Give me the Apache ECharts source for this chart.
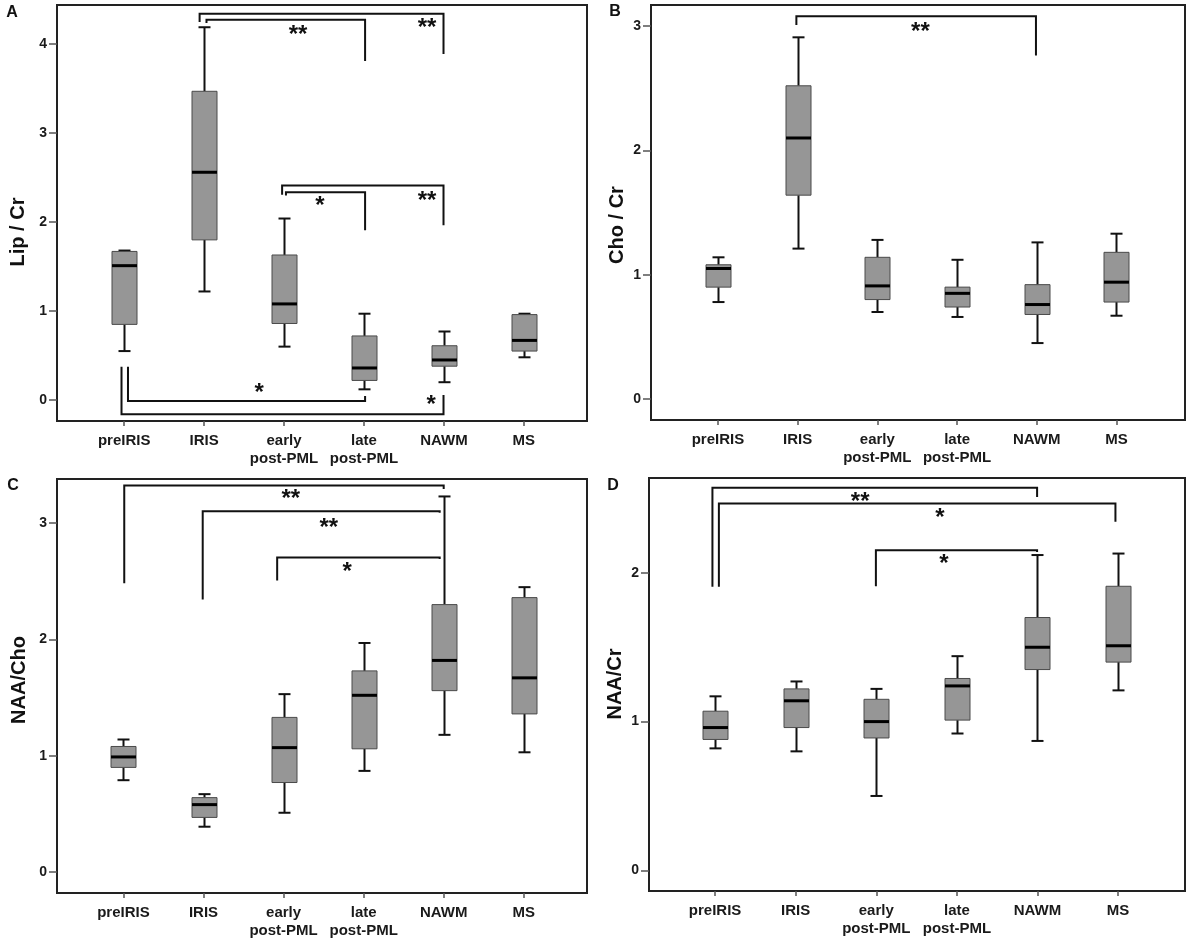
<!DOCTYPE html>
<html lang="en">

<head>
    <meta charset="UTF-8">
    <title>MRS ratios by group</title>
    <script src="https://cdn.jsdelivr.net/npm/echarts@6/dist/echarts.min.js"></script>
    <style>
        html, body { margin: 0; padding: 0; background: #fff; }
        #main { width: 1192px; height: 944px; }
    </style>
</head>

<body>
    <div id="main"></div>
    <script>
        var myChart = echarts.init(document.getElementById('main'));

        // groups on the x axis (same for all four panels)
        var categories = ['preIRIS', 'IRIS', 'early\npost-PML', 'late\npost-PML', 'NAWM', 'MS'];

        // box values per group: [min, Q1, median, Q3, max]
        var lipCr = [
            [0.55, 0.85, 1.51, 1.67, 1.68],
            [1.22, 1.80, 2.56, 3.47, 4.19],
            [0.60, 0.86, 1.08, 1.63, 2.04],
            [0.12, 0.22, 0.36, 0.72, 0.97],
            [0.20, 0.38, 0.45, 0.61, 0.77],
            [0.48, 0.55, 0.67, 0.96, 0.97]
        ];
        var choCr = [
            [0.78, 0.90, 1.05, 1.08, 1.14],
            [1.21, 1.64, 2.10, 2.52, 2.91],
            [0.70, 0.80, 0.91, 1.14, 1.28],
            [0.66, 0.74, 0.85, 0.90, 1.12],
            [0.45, 0.68, 0.76, 0.92, 1.26],
            [0.67, 0.78, 0.94, 1.18, 1.33]
        ];
        var naaCho = [
            [0.79, 0.90, 0.99, 1.08, 1.14],
            [0.39, 0.47, 0.58, 0.64, 0.67],
            [0.51, 0.77, 1.07, 1.33, 1.53],
            [0.87, 1.06, 1.52, 1.73, 1.97],
            [1.18, 1.56, 1.82, 2.30, 3.23],
            [1.03, 1.36, 1.67, 2.36, 2.45]
        ];
        var naaCr = [
            [0.82, 0.88, 0.96, 1.07, 1.17],
            [0.80, 0.96, 1.14, 1.22, 1.27],
            [0.50, 0.89, 1.00, 1.15, 1.22],
            [0.92, 1.01, 1.24, 1.29, 1.44],
            [0.87, 1.35, 1.50, 1.70, 2.12],
            [1.21, 1.40, 1.51, 1.91, 2.13]
        ];

        // significance brackets: [x1, y at x1 end, x2, y at x2 end, y of bar]
        var bracketsA = [
            [1.03, 4.237, 3.014, 3.81, 4.274],
            [0.944, 4.25, 3.995, 3.888, 4.342],
            [2.024, 2.299, 3.014, 1.907, 2.336],
            [1.976, 2.307, 3.995, 1.963, 2.411],
            [0.048, 0.374, 3.014, 0.045, -0.011],
            [-0.033, 0.374, 3.995, 0.056, -0.161]
        ];
        var bracketsB = [
            [0.984, 3.01, 3.99, 2.764, 3.08]
        ];
        var bracketsC = [
            [0.01, 2.484, 4.0, 3.295, 3.324],
            [0.99, 2.344, 3.95, 3.09, 3.103],
            [1.92, 2.507, 3.95, 2.693, 2.705]
        ];
        var bracketsD = [
            [-0.033, 1.906, 3.995, 2.511, 2.572],
            [0.047, 1.906, 4.967, 2.343, 2.466],
            [1.995, 1.91, 3.995, 2.141, 2.152]
        ];

        // stars: [x, y, number of asterisks]
        var starsA = [[2.175, 4.16, 2], [3.79, 4.23, 2], [2.45, 2.23, 1], [3.79, 2.29, 2], [1.69, 0.13, 1], [3.84, 0.0, 1]];
        var starsB = [[2.54, 2.99, 2]];
        var starsC = [[2.09, 3.244, 2], [2.565, 3.0, 2], [2.795, 2.62, 1]];
        var starsD = [[1.80, 2.506, 2], [2.79, 2.40, 1], [2.84, 2.09, 1]];

        // y tick labels
        var ticksA = [0, 1, 2, 3, 4];
        var ticksB = [0, 1, 2, 3];
        var ticksC = [0, 1, 2, 3];
        var ticksD = [0, 1, 2];

        var font = '"Liberation Sans", Arial, sans-serif';

        var panels = [
            { boxes: lipCr, brackets: bracketsA, stars: starsA, ticks: ticksA, grid: { left: 57, top: 5, width: 530, height: 416 }, x: [-0.84, 5.79], y: [-0.236, 4.44] },
            { boxes: choCr, brackets: bracketsB, stars: starsB, ticks: ticksB, grid: { left: 651, top: 5, width: 534, height: 415 }, x: [-0.84, 5.86], y: [-0.169, 3.17] },
            { boxes: naaCho, brackets: bracketsC, stars: starsC, ticks: ticksC, grid: { left: 57, top: 479, width: 530, height: 414 }, x: [-0.83, 5.79], y: [-0.18, 3.38] },
            { boxes: naaCr, brackets: bracketsD, stars: starsD, ticks: ticksD, grid: { left: 649, top: 478, width: 536, height: 413 }, x: [-0.82, 5.83], y: [-0.139, 2.638] }
        ];

        function renderBox(params, api) {
            var x = api.value(0);
            var lo = api.coord([x, api.value(1)]);
            var q1 = api.coord([x, api.value(2)]);
            var md = api.coord([x, api.value(3)]);
            var q3 = api.coord([x, api.value(4)]);
            var hi = api.coord([x, api.value(5)]);
            var cx = Math.round(lo[0]) + 0.5;
            var w = { stroke: '#111', lineWidth: 2 };
            return {
                type: 'group',
                children: [
                    { type: 'line', shape: { x1: cx, y1: hi[1], x2: cx, y2: q3[1] }, style: w },
                    { type: 'line', shape: { x1: cx, y1: q1[1], x2: cx, y2: lo[1] }, style: w },
                    { type: 'line', shape: { x1: cx - 6, y1: hi[1], x2: cx + 6, y2: hi[1] }, style: w },
                    { type: 'line', shape: { x1: cx - 6, y1: lo[1], x2: cx + 6, y2: lo[1] }, style: w },
                    { type: 'rect', shape: { x: cx - 12.5, y: q3[1], width: 25, height: q1[1] - q3[1] }, style: { fill: '#969696', stroke: '#4a4a4a', lineWidth: 1 } },
                    { type: 'line', shape: { x1: cx - 12.5, y1: md[1], x2: cx + 12.5, y2: md[1] }, style: { stroke: '#000', lineWidth: 3 } }
                ]
            };
        }

        function renderBracket(params, api) {
            var a = api.coord([api.value(0), api.value(1)]);
            var b = api.coord([api.value(0), api.value(4)]);
            var c = api.coord([api.value(2), api.value(4)]);
            var d = api.coord([api.value(2), api.value(3)]);
            return {
                type: 'polyline',
                shape: { points: [a, b, c, d] },
                style: { stroke: '#111', lineWidth: 2, fill: null }
            };
        }

        function renderStars(params, api) {
            var p = api.coord([api.value(0), api.value(1)]);
            var s = api.value(2) === 2 ? '**' : '*';
            return {
                type: 'text',
                x: p[0],
                y: p[1] + 5,
                style: { text: s, fill: '#111', fontSize: 24, fontWeight: 'bold', fontFamily: font, align: 'center', verticalAlign: 'middle' }
            };
        }

        var grids = [], xAxes = [], yAxes = [], series = [];
        panels.forEach(function (p, i) {
            grids.push({
                left: p.grid.left, top: p.grid.top, width: p.grid.width, height: p.grid.height,
                show: true, borderColor: '#222', borderWidth: 2, backgroundColor: '#fff'
            });
            xAxes.push({
                gridIndex: i, type: 'value', min: p.x[0], max: p.x[1], position: 'bottom',
                axisLine: { show: false, onZero: false }, splitLine: { show: false },
                axisTick: { show: true, length: 5, customValues: [0, 1, 2, 3, 4, 5], lineStyle: { color: '#555', width: 1.5 } },
                axisLabel: {
                    customValues: [0, 1, 2, 3, 4, 5], margin: 11,
                    formatter: function (v) { return categories[Math.round(v)]; },
                    color: '#1a1a1a', fontSize: 15, fontWeight: 'bold', fontFamily: font, lineHeight: 18
                }
            });
            yAxes.push({
                gridIndex: i, type: 'value', min: p.y[0], max: p.y[1], position: 'left',
                axisLine: { show: false, onZero: false }, splitLine: { show: false },
                axisTick: { show: true, length: 8, customValues: p.ticks, lineStyle: { color: '#555', width: 1.5 } },
                axisLabel: { customValues: p.ticks, margin: 10, color: '#1a1a1a', fontSize: 14, fontWeight: 'bold', fontFamily: font }
            });
            series.push({
                type: 'custom', xAxisIndex: i, yAxisIndex: i, renderItem: renderBracket, silent: true,
                data: p.brackets
            });
            series.push({
                type: 'custom', xAxisIndex: i, yAxisIndex: i, renderItem: renderBox,
                encode: { x: 0, y: [1, 2, 3, 4, 5] },
                data: p.boxes.map(function (b, k) { return [k].concat(b); })
            });
            series.push({
                type: 'custom', xAxisIndex: i, yAxisIndex: i, renderItem: renderStars, silent: true,
                data: p.stars
            });
        });

        function sideText(t, x, y, size, rot) {
            return {
                type: 'text', x: x, y: y, rotation: rot || 0,
                style: { text: t, fill: '#111', fontSize: size, fontWeight: 'bold', fontFamily: font, align: 'center', verticalAlign: 'middle' }
            };
        }

        var option = {
            animation: false,
            grid: grids,
            xAxis: xAxes,
            yAxis: yAxes,
            series: series,
            graphic: [
                sideText('A', 12, 13, 16),
                sideText('B', 615, 12, 16),
                sideText('C', 13, 486, 16),
                sideText('D', 613, 486, 16),
                sideText('Lip / Cr', 18, 232, 20, Math.PI / 2),
                sideText('Cho / Cr', 617, 225, 20, Math.PI / 2),
                sideText('NAA/Cho', 19, 680, 20, Math.PI / 2),
                sideText('NAA/Cr', 615, 684, 20, Math.PI / 2)
            ]
        };

        myChart.setOption(option);
        window.onresize = function () {
            myChart.resize();
        };
    </script>
</body>

</html>
